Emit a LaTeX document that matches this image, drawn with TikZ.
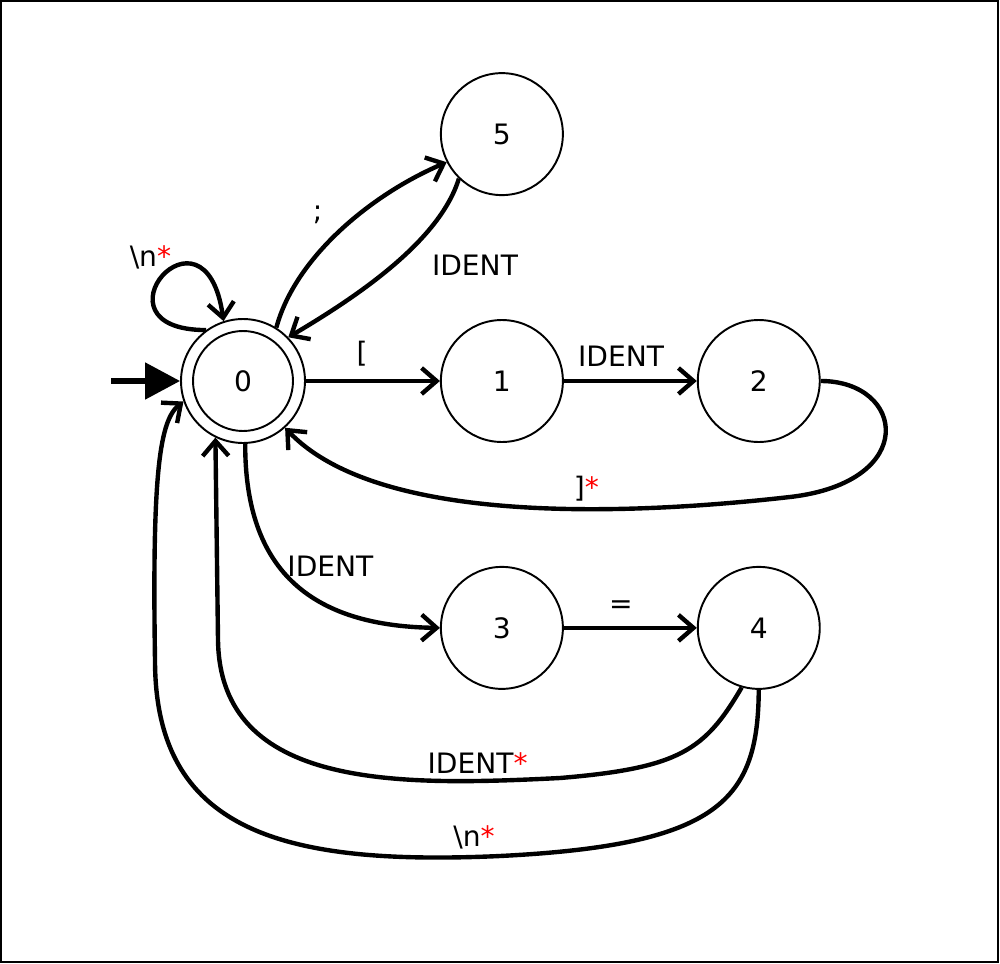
\documentclass[tikz,border=0pt]{standalone}
\usepackage{fontspec}
\setmainfont{DejaVu Sans}
\usepackage{tikz}
\usetikzlibrary{arrows.meta,positioning}
\tikzstyle{state} = [circle, draw, line width=1.1pt, inner sep=0pt, text=black, text centered, font=\fontsize{16}{19}\selectfont, minimum size=2.44cm]
\tikzstyle{accept} = [state, minimum size=2.48cm, path picture={\draw[line width=1.1pt] (path picture bounding box.center) circle (1cm);}]
\tikzstyle{tedge}  = [draw, line width=2.5pt, -{Straight Barb[length=3mm,width=5.2mm]}]
\tikzstyle{lbl} = [font=\fontsize{16}{19}\selectfont, inner sep=3pt]

\begin{document}
\begin{tikzpicture}[x=0.02cm, y=-0.02cm]

\useasboundingbox (0,0) rectangle (1000,963);
\draw[line width=0.8pt] (1,1) rectangle (998,962);

% states =============================
\node[accept] (s0) at (243,381) {0};
\node[state, right=2.68cm of s0] (s1) {1};
\node[state, right=2.66cm of s1] (s2) {2};
\node[state, above=2.46cm of s1] (s5) {5};
\node[state, below=2.46cm of s1] (s3) {3};
\node[state, right=2.66cm of s3] (s4) {4};
\coordinate[left=1.38cm of s0] (start);

% edges
\path[draw, line width=2.9pt, -{Triangle[length=0.7cm,width=0.72cm]}] (start) -- (s0);

\path[tedge] (s0.126) .. controls (85,330) and (205,190) .. (s0.108)
  node[lbl, pos=.5, above, xshift=-0.24cm] {\textbackslash n\textcolor{red}{*}};
\path[tedge] (s0.58) .. controls (295,258) and (370,195) .. (s5.207)
  node[lbl, pos=.5, anchor=south east, xshift=-0.2cm] {;};
\path[tedge] (s5.226) .. controls (440,240) and (360,295) .. (s0.44)
  node[lbl, pos=.35, anchor=north west, xshift=0.1cm, yshift=-0.14cm] {IDENT};

\path[tedge] (s0) -- (s1) node[lbl, pos=.42, above=4pt] {[};
\path[tedge] (s1) -- (s2) node[lbl, pos=.43, above=4pt] {IDENT};
\path[tedge] (s3) -- (s4) node[lbl, pos=.43, above=4pt] {=};

\path[tedge] (s2.0) .. controls (905,381) and (920,482) .. (790,497)
  .. controls (640,514) and (380,528) .. (s0.-48)
  node[lbl, pos=.38, above] {]\textcolor{red}{*}};

\path[tedge] (s0.-88) .. controls (245,560) and (300,626) .. (s3.180)
  node[lbl, pos=.5, anchor=south west, xshift=-0.2cm, yshift=-0.1cm] {IDENT};

\path[tedge] (s4.254) .. controls (705,750) and (680,768) .. (560,778)
  .. controls (400,786) and (220,790) .. (218,640)
  node[lbl, pos=.17, above] {IDENT\textcolor{red}{*}} -- (s0.-116);

\path[tedge] (s4.270) .. controls (758,800) and (720,845) .. (500,856)
  .. controls (280,866) and (155,830) .. (155,660)
  node[lbl, pos=.04, above] {\textbackslash n\textcolor{red}{*}}
  .. controls (152,470) and (160,420) .. (s0.-161);

\end{tikzpicture}
\end{document}
